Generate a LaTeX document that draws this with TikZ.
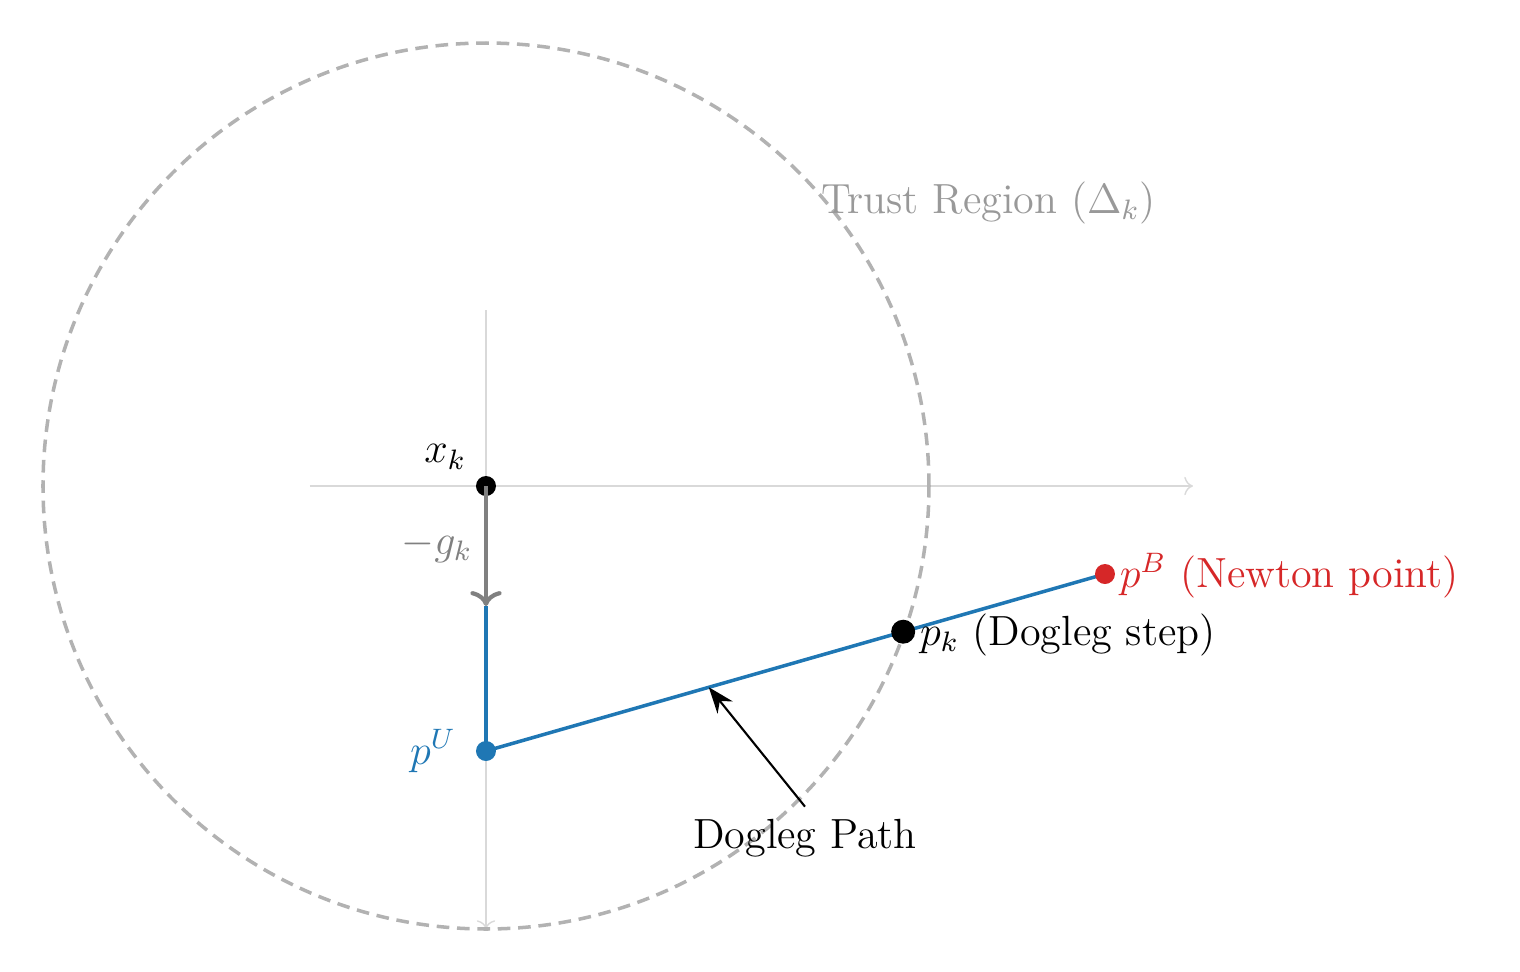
\documentclass[tikz,border=0pt]{standalone}
\usepackage{amsmath}
\usepackage{tikz}
\usetikzlibrary{positioning,calc,arrows.meta}

\definecolor{tabblue}{RGB}{31,119,180}
\definecolor{tabred}{RGB}{214,39,40}

\tikzset{
    dot/.style={circle, fill, inner sep=0pt, minimum size=#1},
    axis/.style={->, gray!30, thin},
    trust/.style={gray!60, line width=1pt, dash pattern=on 3.6pt off 2.2pt},
    grad/.style={->, gray, line width=1.2pt},
    dogleg/.style={tabblue, line width=1pt},
}

\begin{document}
\begin{tikzpicture}[font=\large]
    \useasboundingbox (-4.86,-4.86) rectangle (10.34,4.86);

    % Define coordinates
    \coordinate (o) at (0,0);
    \coordinate (axl) at (-1.76,0);
    \coordinate (axr) at (7.07,0);
    \coordinate (axt) at (0,1.76);
    \coordinate (axb) at (0,-4.43);
    \coordinate (gk) at (0,-1.2);
    \coordinate (pu) at (0,-2.65);
    \coordinate (pb) at (6.19,-0.88);
    \coordinate (pk) at ($(pu)!0.674!(pb)$);
    \coordinate (mid) at ($(pu)!0.36!(pb)$);

    % Axes and trust region
    \draw[axis] (axl) -- (axr);
    \draw[axis] (axt) -- (axb);
    \draw[trust] (o) circle (4.43);
    \node[gray!80] (trustlabel) at (5.025,2.835) {Trust Region ($\Delta_k$)};

    % Current point and steepest descent
    \node[dot=0.2cm] (xk) at (o) {};
    \node[above left=0pt and 0pt of xk, yshift=-0.03cm] (xklabel) {$x_k$};
    \draw[grad] (xk.center) -- node[left] (gklabel) {$-g_k$} (gk);

    % Dogleg path
    \draw[dogleg] (gk) -- (pu) -- (pb);

    % Points on the path
    \node[dot=0.2cm, tabblue] (pU) at (pu) {};
    \node[tabblue, left=0.07cm of pU] (pUlabel) {$p^U$};
    \node[dot=0.2cm, tabred] (pB) at (pb) {};
    \node[tabred, right=0pt of pB, yshift=-0.02cm, inner sep=1pt] (pBlabel) {$p^B$ (Newton point)};
    \node[dot=0.24cm] (pK) at (pk) {};
    \node[right=0pt of pK, yshift=-0.03cm, inner sep=1pt] (pKlabel) {$p_k$ (Dogleg step)};

    % Annotation
    \node (path) at (3.19,-3.52) {Dogleg Path};
    \draw[-{Stealth[length=2.6mm]}, semithick] (path.north) -- (mid);
\end{tikzpicture}
\end{document}
